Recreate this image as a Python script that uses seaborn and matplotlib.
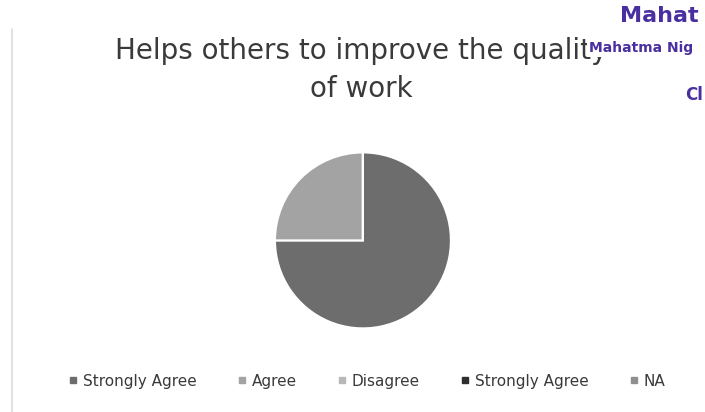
import matplotlib.pyplot as plt
import seaborn as sns
from matplotlib.lines import Line2D

sns.set_theme(style="white")
plt.rcParams['font.family'] = ['DejaVu Sans']

# data
categories = ["Strongly Agree", "Agree", "Disagree", "Strongly Agree", "NA"]
values = [75, 25, 0, 0, 0]
slice_colors = ["#6d6d6d", "#a3a3a3", "#b8b8b8", "#2e2e2e", "#8f8f8f"]

title_text = "Helps others to improve the quality\nof work"

fig = plt.figure(figsize=(7.05, 4.12), dpi=100)
fig.patch.set_facecolor("white")

ax = fig.add_axes([0.390, 0.203, 0.2496, 0.427])
wedges, _ = ax.pie(values, colors=slice_colors, startangle=90, counterclock=False,
                   wedgeprops=dict(edgecolor="white", linewidth=1.5))
ax.set_xlim(-1.0, 1.0)
ax.set_ylim(-1.0, 1.0)
ax.set_aspect("equal")

fig.text(0.512, 0.83, title_text, ha="center", va="center", fontsize=20,
         color="#3a3a3a", linespacing=1.45)

# scanned watermark text in the corner (only the visible part)
wm = "#4a2fa0"
fig.text(0.88, 0.962, "Mahat", fontsize=16, fontweight="bold", color=wm,
         va="center", ha="left")
fig.text(0.835, 0.883, "Mahatma Nig", fontsize=10, fontweight="bold", color=wm,
         va="center", ha="left",
         bbox=dict(facecolor="white", edgecolor="none", pad=1))
fig.text(0.972, 0.77, "Cl", fontsize=12, fontweight="bold", color=wm,
         va="center", ha="left")

# faint frame of the original chart
fig.add_artist(Line2D([0.017, 0.017], [0.0, 0.93], color="#dcdcdc", lw=1.2))

handles = [Line2D([], [], marker="s", linestyle="none", markersize=5,
                  markerfacecolor=c, markeredgecolor=c) for c in slice_colors]
fig.legend(handles, categories, loc="center", bbox_to_anchor=(0.52, 0.075),
           ncol=5, frameon=False, fontsize=11, handlelength=0.7,
           handletextpad=0.3, columnspacing=2.6, labelcolor="#3a3a3a")

fig.savefig("out.png", dpi=100, facecolor="white")
